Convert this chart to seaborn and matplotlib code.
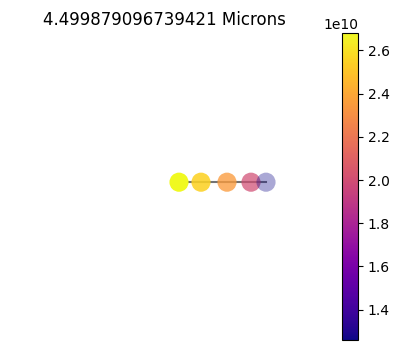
import matplotlib
matplotlib.use("Agg")
import matplotlib.pyplot as plt
import seaborn as sns
import numpy as np
import pandas as pd

# data
pos_x = [0.0, 2.2, 4.8, 7.2, 8.7]
pos_y = [0.0, 0.0, 0.0, 0.0, 0.0]
values = [2.68e10, 2.55e10, 2.35e10, 2.0e10, 1.26e10]
alphas = [1.0, 0.88, 0.78, 0.72, 0.35]
title = "4.499879096739421 Microns"

df = pd.DataFrame({"x": pos_x, "y": pos_y, "v": values})
vmin, vmax = min(values), max(values)
norm = matplotlib.colors.Normalize(vmin=vmin, vmax=vmax)

fig = plt.figure(figsize=(3.98, 3.5), dpi=100)
W, H = 398, 350
ax = fig.add_axes([44 / W, 10 / H, 240 / W, 307 / H])
cax = fig.add_axes([342 / W, 10 / H, 16 / W, 307 / H])

sns.lineplot(data=df, x="x", y="y", ax=ax, color="black", alpha=0.55, lw=1.5,
             zorder=1, sort=False)
sns.scatterplot(data=df, x="x", y="y", hue="v", palette="plasma", hue_norm=norm,
                s=190, linewidth=0, ax=ax, legend=False, zorder=2)
ax.collections[-1].set_alpha(np.array(alphas))

ax.set_xlim(-13.5, 10.5)
ax.set_ylim(-0.514, 0.486)
ax.axis("off")
ax.set_title(title)

sm = matplotlib.cm.ScalarMappable(norm=norm, cmap="plasma")
fig.colorbar(sm, cax=cax)

fig.savefig("out.png", dpi=100)
